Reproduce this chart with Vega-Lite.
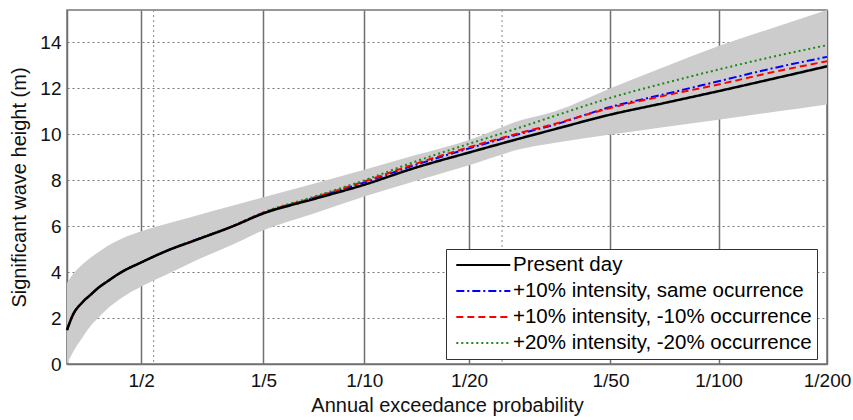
{
  "$schema": "https://vega.github.io/schema/vega-lite/v6.json",
  "width": 760,
  "height": 354,
  "autosize": {"type": "none"},
  "padding": {"left": 67, "top": 10, "right": 26, "bottom": 56},
  "background": "white",
  "config": {
    "font": "Liberation Sans",
    "view": {"stroke": "#777777", "strokeWidth": 1.5},
    "axis": {
      "labelFontSize": 19,
      "titleFontSize": 20,
      "titleFontWeight": "normal",
      "labelColor": "#111111",
      "titleColor": "#111111",
      "domainColor": "#707070",
      "domainWidth": 1.5,
      "ticks": false,
      "labelPadding": 7
    },
    "legend": {
      "orient": "none",
      "legendX": 379,
      "legendY": 239,
      "padding": 5,
      "fillColor": "white",
      "strokeColor": "#333333",
      "strokeWidth": 1,
      "labelFontSize": 20.5,
      "labelColor": "#000000",
      "labelLimit": 500,
      "symbolType": "M-0.57,0L4.83,0",
      "symbolSize": 400,
      "symbolStrokeWidth": 2,
      "symbolFillColor": "transparent",
      "labelOffset": 40,
      "rowPadding": 4,
      "title": null
    }
  },
  "datasets": {
    "vgrid": [{"T": 2.21}, {"T": 24.8}],
    "band": [
      {"T": 1.04, "lo": 0.0, "hi": 3.52},
      {"T": 1.1, "lo": 0.5, "hi": 3.9},
      {"T": 1.2, "lo": 1.13, "hi": 4.32},
      {"T": 1.3, "lo": 1.66, "hi": 4.63},
      {"T": 1.4, "lo": 2.04, "hi": 4.88},
      {"T": 1.5, "lo": 2.38, "hi": 5.12},
      {"T": 1.7, "lo": 2.87, "hi": 5.45},
      {"T": 2, "lo": 3.37, "hi": 5.77},
      {"T": 2.5, "lo": 3.95, "hi": 6.13},
      {"T": 3, "lo": 4.45, "hi": 6.42},
      {"T": 4, "lo": 5.19, "hi": 6.88},
      {"T": 5, "lo": 5.82, "hi": 7.25},
      {"T": 7, "lo": 6.52, "hi": 7.82},
      {"T": 10, "lo": 7.29, "hi": 8.45},
      {"T": 14, "lo": 7.95, "hi": 9.08},
      {"T": 20, "lo": 8.65, "hi": 9.75},
      {"T": 28, "lo": 9.35, "hi": 10.6},
      {"T": 35, "lo": 9.62, "hi": 11.0},
      {"T": 50, "lo": 9.98, "hi": 12.0},
      {"T": 70, "lo": 10.3, "hi": 12.9},
      {"T": 100, "lo": 10.63, "hi": 13.83},
      {"T": 140, "lo": 10.95, "hi": 14.6},
      {"T": 200, "lo": 11.29, "hi": 15.4}
    ],
    "curves": [
      {"series": "Present day", "T": 1.04, "h": 1.48},
      {"series": "Present day", "T": 1.1, "h": 2.13},
      {"series": "Present day", "T": 1.2, "h": 2.67},
      {"series": "Present day", "T": 1.3, "h": 3.02},
      {"series": "Present day", "T": 1.4, "h": 3.34},
      {"series": "Present day", "T": 1.5, "h": 3.58},
      {"series": "Present day", "T": 1.7, "h": 4.0},
      {"series": "Present day", "T": 2, "h": 4.42},
      {"series": "Present day", "T": 2.5, "h": 4.97},
      {"series": "Present day", "T": 3, "h": 5.35},
      {"series": "Present day", "T": 4, "h": 5.98},
      {"series": "Present day", "T": 5, "h": 6.55},
      {"series": "Present day", "T": 7, "h": 7.15},
      {"series": "Present day", "T": 10, "h": 7.8},
      {"series": "Present day", "T": 14, "h": 8.53},
      {"series": "Present day", "T": 20, "h": 9.2},
      {"series": "Present day", "T": 28, "h": 9.82},
      {"series": "Present day", "T": 35, "h": 10.22},
      {"series": "Present day", "T": 50, "h": 10.85},
      {"series": "Present day", "T": 70, "h": 11.34},
      {"series": "Present day", "T": 100, "h": 11.87},
      {"series": "Present day", "T": 140, "h": 12.39},
      {"series": "Present day", "T": 200, "h": 12.95},

      {"series": "+10% intensity, same ocurrence", "T": 1.04, "h": 1.48},
      {"series": "+10% intensity, same ocurrence", "T": 1.1, "h": 2.13},
      {"series": "+10% intensity, same ocurrence", "T": 1.2, "h": 2.67},
      {"series": "+10% intensity, same ocurrence", "T": 1.3, "h": 3.02},
      {"series": "+10% intensity, same ocurrence", "T": 1.4, "h": 3.34},
      {"series": "+10% intensity, same ocurrence", "T": 1.5, "h": 3.58},
      {"series": "+10% intensity, same ocurrence", "T": 1.7, "h": 4.0},
      {"series": "+10% intensity, same ocurrence", "T": 2, "h": 4.42},
      {"series": "+10% intensity, same ocurrence", "T": 2.5, "h": 4.97},
      {"series": "+10% intensity, same ocurrence", "T": 3, "h": 5.36},
      {"series": "+10% intensity, same ocurrence", "T": 4, "h": 5.99},
      {"series": "+10% intensity, same ocurrence", "T": 5, "h": 6.57},
      {"series": "+10% intensity, same ocurrence", "T": 7, "h": 7.19},
      {"series": "+10% intensity, same ocurrence", "T": 10, "h": 7.9},
      {"series": "+10% intensity, same ocurrence", "T": 14, "h": 8.65},
      {"series": "+10% intensity, same ocurrence", "T": 20, "h": 9.38},
      {"series": "+10% intensity, same ocurrence", "T": 28, "h": 10.02},
      {"series": "+10% intensity, same ocurrence", "T": 35, "h": 10.42},
      {"series": "+10% intensity, same ocurrence", "T": 50, "h": 11.18},
      {"series": "+10% intensity, same ocurrence", "T": 70, "h": 11.72},
      {"series": "+10% intensity, same ocurrence", "T": 100, "h": 12.3},
      {"series": "+10% intensity, same ocurrence", "T": 140, "h": 12.85},
      {"series": "+10% intensity, same ocurrence", "T": 200, "h": 13.36},

      {"series": "+10% intensity, -10% occurrence", "T": 1.04, "h": 1.48},
      {"series": "+10% intensity, -10% occurrence", "T": 1.1, "h": 2.13},
      {"series": "+10% intensity, -10% occurrence", "T": 1.2, "h": 2.67},
      {"series": "+10% intensity, -10% occurrence", "T": 1.3, "h": 3.02},
      {"series": "+10% intensity, -10% occurrence", "T": 1.4, "h": 3.34},
      {"series": "+10% intensity, -10% occurrence", "T": 1.5, "h": 3.58},
      {"series": "+10% intensity, -10% occurrence", "T": 1.7, "h": 4.0},
      {"series": "+10% intensity, -10% occurrence", "T": 2, "h": 4.42},
      {"series": "+10% intensity, -10% occurrence", "T": 2.5, "h": 4.97},
      {"series": "+10% intensity, -10% occurrence", "T": 3, "h": 5.36},
      {"series": "+10% intensity, -10% occurrence", "T": 4, "h": 5.99},
      {"series": "+10% intensity, -10% occurrence", "T": 5, "h": 6.58},
      {"series": "+10% intensity, -10% occurrence", "T": 7, "h": 7.21},
      {"series": "+10% intensity, -10% occurrence", "T": 10, "h": 7.94},
      {"series": "+10% intensity, -10% occurrence", "T": 14, "h": 8.7},
      {"series": "+10% intensity, -10% occurrence", "T": 20, "h": 9.43},
      {"series": "+10% intensity, -10% occurrence", "T": 28, "h": 10.06},
      {"series": "+10% intensity, -10% occurrence", "T": 35, "h": 10.45},
      {"series": "+10% intensity, -10% occurrence", "T": 50, "h": 11.14},
      {"series": "+10% intensity, -10% occurrence", "T": 70, "h": 11.66},
      {"series": "+10% intensity, -10% occurrence", "T": 100, "h": 12.16},
      {"series": "+10% intensity, -10% occurrence", "T": 140, "h": 12.68},
      {"series": "+10% intensity, -10% occurrence", "T": 200, "h": 13.17},

      {"series": "+20% intensity, -20% occurrence", "T": 1.04, "h": 1.48},
      {"series": "+20% intensity, -20% occurrence", "T": 1.1, "h": 2.13},
      {"series": "+20% intensity, -20% occurrence", "T": 1.2, "h": 2.67},
      {"series": "+20% intensity, -20% occurrence", "T": 1.3, "h": 3.02},
      {"series": "+20% intensity, -20% occurrence", "T": 1.4, "h": 3.34},
      {"series": "+20% intensity, -20% occurrence", "T": 1.5, "h": 3.58},
      {"series": "+20% intensity, -20% occurrence", "T": 1.7, "h": 4.0},
      {"series": "+20% intensity, -20% occurrence", "T": 2, "h": 4.42},
      {"series": "+20% intensity, -20% occurrence", "T": 2.5, "h": 4.98},
      {"series": "+20% intensity, -20% occurrence", "T": 3, "h": 5.37},
      {"series": "+20% intensity, -20% occurrence", "T": 4, "h": 6.0},
      {"series": "+20% intensity, -20% occurrence", "T": 5, "h": 6.6},
      {"series": "+20% intensity, -20% occurrence", "T": 7, "h": 7.25},
      {"series": "+20% intensity, -20% occurrence", "T": 10, "h": 7.99},
      {"series": "+20% intensity, -20% occurrence", "T": 14, "h": 8.8},
      {"series": "+20% intensity, -20% occurrence", "T": 20, "h": 9.58},
      {"series": "+20% intensity, -20% occurrence", "T": 28, "h": 10.3},
      {"series": "+20% intensity, -20% occurrence", "T": 35, "h": 10.8},
      {"series": "+20% intensity, -20% occurrence", "T": 50, "h": 11.58},
      {"series": "+20% intensity, -20% occurrence", "T": 70, "h": 12.2},
      {"series": "+20% intensity, -20% occurrence", "T": 100, "h": 12.81},
      {"series": "+20% intensity, -20% occurrence", "T": 140, "h": 13.35},
      {"series": "+20% intensity, -20% occurrence", "T": 200, "h": 13.87}
    ]
  },
  "layer": [
    {
      "data": {"name": "vgrid"},
      "mark": {"type": "rule", "color": "#888888", "strokeDash": [2, 3], "strokeWidth": 1},
      "encoding": {
        "x": {
          "field": "T", "type": "quantitative",
          "scale": {"type": "symlog", "constant": 0.55, "domain": [1.04, 200], "nice": false, "zero": false},
          "axis": {
            "values": [2, 5, 10, 20, 50, 100, 200],
            "labelExpr": "'1/' + datum.value",
            "grid": true,
            "gridColor": "#707070",
            "gridWidth": 1.5,
            "gridOpacity": 1,
            "labelFlush": false,
            "labelOverlap": false,
            "title": "Annual exceedance probability",
            "titlePadding": 5
          }
        }
      }
    },
    {
      "data": {"name": "band"},
      "mark": {"type": "area", "color": "#cccccc", "opacity": 1, "interpolate": "monotone"},
      "encoding": {
        "x": {"field": "T", "type": "quantitative", "scale": {"type": "symlog", "constant": 0.55, "domain": [1.04, 200], "nice": false, "zero": false}},
        "y": {
          "field": "lo", "type": "quantitative",
          "scale": {"domain": [0, 15.4], "nice": false, "zero": false},
          "axis": {
            "values": [0, 2, 4, 6, 8, 10, 12, 14],
            "grid": true,
            "gridDash": [2, 3],
            "gridColor": "#777777",
            "gridWidth": 1,
            "gridOpacity": 1,
            "title": "Significant wave height (m)",
            "titlePadding": 10,
            "labelPadding": 6
          }
        },
        "y2": {"field": "hi"}
      }
    },
    {
      "data": {"name": "curves"},
      "transform": [{"filter": "datum.series !== 'Present day'"}],
      "mark": {"type": "line", "strokeWidth": 2, "interpolate": "monotone"},
      "encoding": {
        "x": {"field": "T", "type": "quantitative"},
        "y": {"field": "h", "type": "quantitative", "title": "Significant wave height (m)"},
        "color": {
          "field": "series", "type": "nominal",
          "scale": {
            "domain": ["Present day", "+10% intensity, same ocurrence", "+10% intensity, -10% occurrence", "+20% intensity, -20% occurrence"],
            "range": ["#000000", "#0000ff", "#ff0000", "#1a8a1a"]
          },
          "legend": {"title": null}
        },
        "strokeDash": {
          "field": "series", "type": "nominal",
          "scale": {
            "domain": ["Present day", "+10% intensity, same ocurrence", "+10% intensity, -10% occurrence", "+20% intensity, -20% occurrence"],
            "range": [[1, 0], [8, 3, 2, 3], [7, 4], [2, 3]]
          },
          "legend": {"title": null}
        }
      }
    },
    {
      "data": {"name": "curves"},
      "transform": [{"filter": "datum.series === 'Present day'"}],
      "mark": {"type": "line", "strokeWidth": 2.5, "interpolate": "monotone"},
      "encoding": {
        "x": {"field": "T", "type": "quantitative"},
        "y": {"field": "h", "type": "quantitative", "title": "Significant wave height (m)"},
        "color": {"field": "series", "type": "nominal", "legend": {"title": null}},
        "strokeDash": {"field": "series", "type": "nominal", "legend": {"title": null}}
      }
    }
  ]
}
